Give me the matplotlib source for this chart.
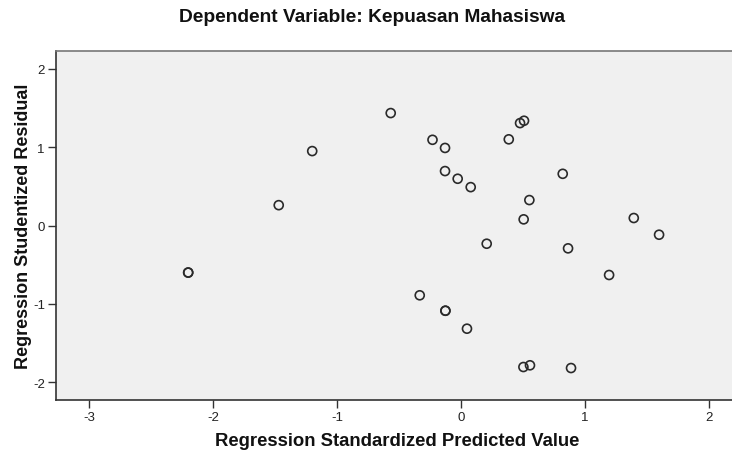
import matplotlib.pyplot as plt

plt.rcParams['font.family'] = ['Liberation Sans', 'DejaVu Sans']
plt.rcParams['axes.unicode_minus'] = False

# Regression standardized predicted value (x) vs studentized residual (y)
pred = [-2.20, -2.20, -1.47, -1.20, -0.567, -0.23, -0.129, -0.129, -0.027, 0.078,
        0.385, 0.476, 0.508, 0.551, 0.505, 0.207, 0.863, 1.597, 1.194, -0.333,
        -0.126, -0.126, 0.048, 0.503, 0.556, 0.887, 1.393, 0.82]
resid = [-0.60, -0.60, 0.26, 0.95, 1.435, 1.094, 0.99, 0.695, 0.597, 0.49,
         1.10, 1.307, 1.337, 0.325, 0.079, -0.232, -0.291, -0.117, -0.631, -0.89,
         -1.087, -1.087, -1.316, -1.805, -1.783, -1.818, 0.096, 0.66]

xticks = [-3, -2, -1, 0, 1, 2]
yticks = [-2, -1, 0, 1, 2]

fig = plt.figure(figsize=(7.32, 4.52), dpi=100)
ax = fig.add_axes([0.0765, 0.1128, 0.9235, 0.772])
ax.set_facecolor('#f0f0f0')

ax.scatter(pred, resid, s=42, facecolors='none', edgecolors='#2a2a2a', linewidths=1.2)

ax.set_xlim(-3.266, 2.185)
ax.set_ylim(-2.226, 2.226)
ax.set_xticks(xticks)
ax.set_yticks(yticks)
ax.tick_params(axis='both', direction='out', length=6, width=1, color='#333333',
               labelsize=9.5, labelcolor='#222222', pad=2)

ax.spines['right'].set_visible(False)
for side in ['left', 'bottom', 'top']:
    ax.spines[side].set_color('#333333')
    ax.spines[side].set_linewidth(1.2)
ax.spines['top'].set_color('#777777')

fig.text(372 / 732, 1 - 17 / 452, 'Dependent Variable: Kepuasan Mahasiswa',
         ha='center', va='center', fontsize=13.8, fontweight='bold', color='#111111')
ax.set_xlabel('Regression Standardized Predicted Value', fontsize=13.3,
              fontweight='bold', color='#111111')
ax.xaxis.set_label_coords(0.504, -0.093)
ax.set_ylabel('Regression Studentized Residual', fontsize=13,
              fontweight='bold', color='#111111')
ax.yaxis.set_label_coords(-0.036, 0.5)

plt.savefig('out.png', dpi=100)
